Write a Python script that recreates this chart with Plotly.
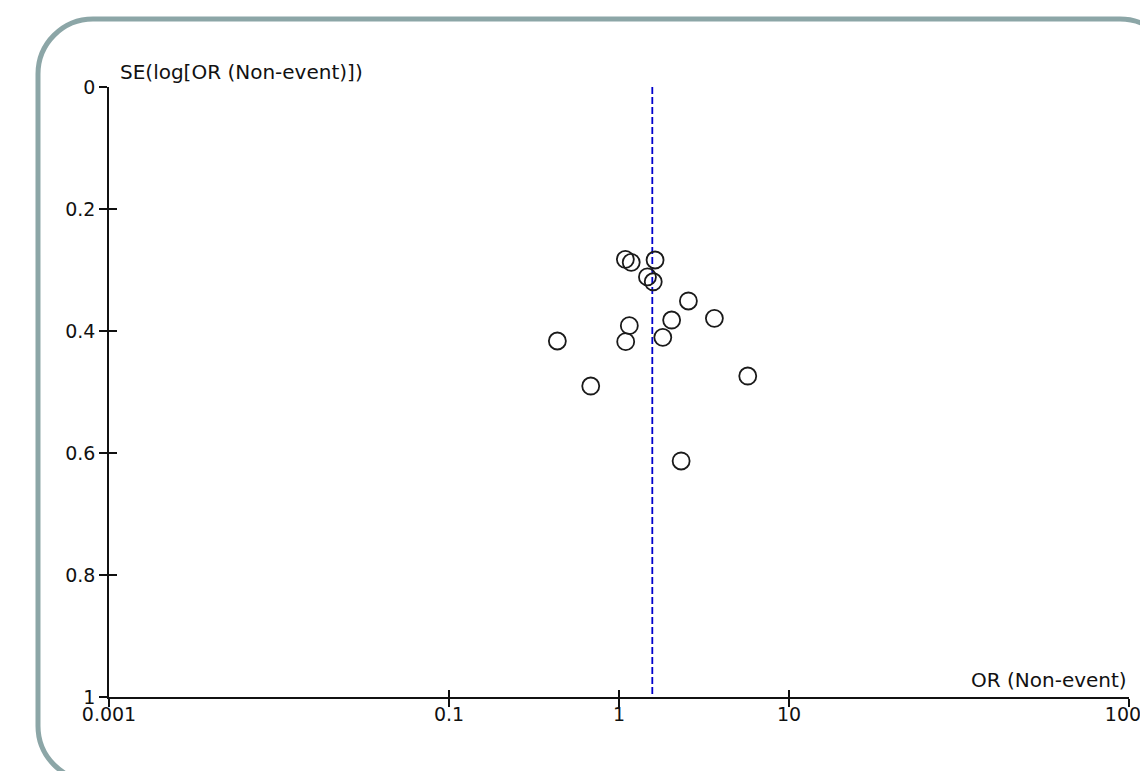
import plotly.graph_objects as go

# Data
study_or = [1.09, 1.18, 1.63, 1.47, 1.59, 2.56, 2.04, 3.64, 1.15, 0.434, 1.095, 1.81, 5.72, 0.682, 2.32]
study_se = [0.2825, 0.2874, 0.2836, 0.3113, 0.3193, 0.3508, 0.382, 0.3792, 0.3913, 0.4164, 0.4175, 0.4103, 0.4738, 0.4902, 0.6131]
pooled_or = 1.57
x_tick_vals = [0.001, 0.1, 1, 10, 1000]
x_tick_text = ["0.001", "0.1", "1", "10", "1000"]
y_tick_vals = [0, 0.2, 0.4, 0.6, 0.8, 1]
y_tick_text = ["0", "0.2", "0.4", "0.6", "0.8", "1"]

OFF = 8  # default page body margin
W, H = 1148 - OFF, 771 - OFF
PL, PR, PT, PB = 109, 1129, 87, 697  # plot area in page pixels
L, R, T, B = PL - OFF, OFF + W - PR, PT - OFF, OFF + H - PB
FONT = "DejaVu Sans"
FS = 19
FS_T = 20

fig = go.Figure()
fig.add_trace(go.Scatter(x=[pooled_or, pooled_or], y=[0, 1], mode="lines",
                         line=dict(color="#0000cc", width=1.8, dash="7px,3px"),
                         hoverinfo="skip", showlegend=False))
fig.add_trace(go.Scatter(x=study_or, y=study_se, mode="markers",
                         marker=dict(symbol="circle-open", size=17, color="#1a1a1a",
                                     line=dict(width=1.8, color="#1a1a1a")),
                         showlegend=False))

# Rounded border (decoration) built in page pixels then mapped to paper coords
pw, ph = PR - PL, PB - PT
def px(x):
    return (x - PL) / pw
def py(y):
    return (PB - y) / ph
x1, y1, x2, y2, r = 38, 19, 1175, 781, 55
k = 0.5523 * r
pts = (
    f"M {px(x1 + r)},{py(y1)} L {px(x2 - r)},{py(y1)} "
    f"C {px(x2 - r + k)},{py(y1)} {px(x2)},{py(y1 + r - k)} {px(x2)},{py(y1 + r)} "
    f"L {px(x2)},{py(y2 - r)} "
    f"C {px(x2)},{py(y2 - r + k)} {px(x2 - r + k)},{py(y2)} {px(x2 - r)},{py(y2)} "
    f"L {px(x1 + r)},{py(y2)} "
    f"C {px(x1 + r - k)},{py(y2)} {px(x1)},{py(y2 - r + k)} {px(x1)},{py(y2 - r)} "
    f"L {px(x1)},{py(y1 + r)} "
    f"C {px(x1)},{py(y1 + r - k)} {px(x1 + r - k)},{py(y1)} {px(x1 + r)},{py(y1)} Z"
)
fig.add_shape(type="path", xref="paper", yref="paper", path=pts,
              line=dict(color="#8ca6a7", width=5), layer="below")

axis_common = dict(showgrid=False, zeroline=False, linecolor="#111", linewidth=1.5,
                   tickcolor="#111", tickwidth=1.5, ticklen=8,
                   ticklabeloverflow="allow",
                   tickfont=dict(family=FONT, size=FS, color="#111"))

fig.update_layout(
    width=W, height=H,
    margin=dict(l=L, r=R, t=T, b=B, autoexpand=False),
    paper_bgcolor="white", plot_bgcolor="white",
    xaxis=dict(type="log", range=[-3, 3], tickvals=x_tick_vals, ticktext=x_tick_text,
               ticks="outside", showline=True, anchor="y", ticklabelstandoff=-9,
               **axis_common),
    xaxis2=dict(type="log", range=[-3, 3], tickvals=x_tick_vals, overlaying="x",
                ticks="inside", showticklabels=False, showline=False, anchor="y",
                side="bottom", showgrid=False, zeroline=False,
                tickcolor="#111", tickwidth=1.5, ticklen=7),
    yaxis=dict(range=[1, 0], tickvals=y_tick_vals, ticktext=y_tick_text,
               ticks="outside", showline=True, anchor="x", **axis_common),
    yaxis2=dict(range=[1, 0], tickvals=y_tick_vals, overlaying="y",
                ticks="inside", showticklabels=False, showline=False, anchor="x",
                side="left", showgrid=False, zeroline=False,
                tickcolor="#111", tickwidth=1.5, ticklen=8),
    showlegend=False,
    annotations=[
        dict(text="SE(log[OR (Non-event)])", xref="paper", yref="paper",
             x=px(118), y=py(86), xanchor="left", yanchor="bottom", showarrow=False,
             font=dict(family=FONT, size=FS_T, color="#111")),
        dict(text="OR (Non-event)", xref="paper", yref="paper",
             x=px(1129), y=py(694), xanchor="right", yanchor="bottom", showarrow=False,
             font=dict(family=FONT, size=FS_T, color="#111")),
    ],
)
# invisible point to activate the overlay axes
fig.add_trace(go.Scatter(x=[1], y=[0.5], xaxis="x2", yaxis="y2", mode="markers",
                         marker=dict(opacity=0), hoverinfo="skip", showlegend=False))

fig.write_html("out.html")
